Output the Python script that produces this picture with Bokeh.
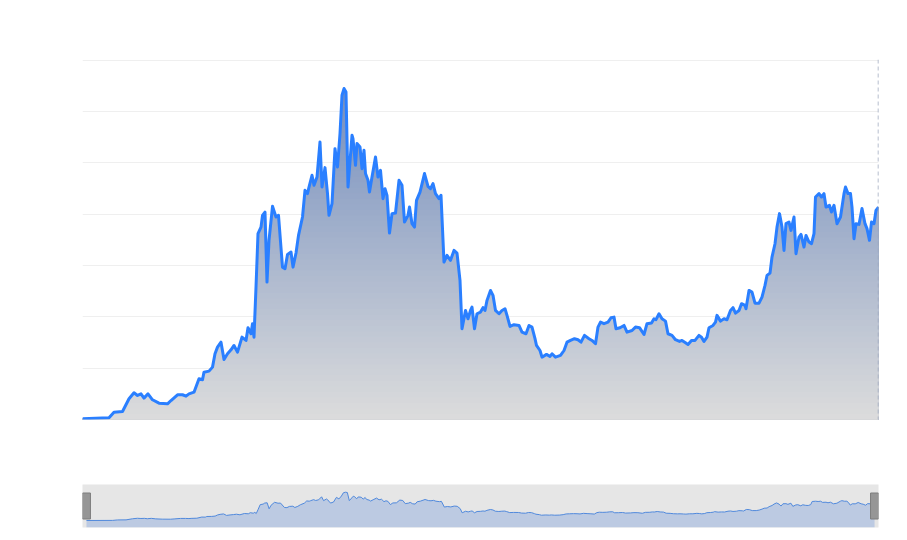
import numpy as np
from bokeh.plotting import figure
from bokeh.models import Range1d, Span, FixedTicker
from bokeh.layouts import column
from bokeh.embed import file_html
from bokeh.resources import INLINE

# ---- data (day index, price) ----
days = [0, 53, 63, 80, 93, 103, 110, 117, 123, 131, 140, 153, 170, 177, 190, 200, 207, 213, 223, 233,
        240, 243, 253, 260, 265, 270, 277, 283, 290, 297, 303, 310, 319, 327, 331, 337, 340, 343, 347, 351,
        357, 360, 365, 369, 373, 380, 387, 392, 400, 405, 410, 417, 421, 427, 432, 440, 445, 450, 453, 459,
        463, 469, 475, 479, 485, 490, 493, 499, 505, 510, 515, 519, 523, 527, 531, 539, 541, 546, 549, 555,
        559, 563, 566, 571, 574, 579, 586, 591, 596, 601, 605, 609, 614, 619, 626, 633, 639, 644, 651, 654,
        659, 664, 668, 675, 684, 691, 696, 701, 706, 713, 717, 723, 729, 736, 743, 749, 755, 759, 766, 771,
        776, 779, 784, 789, 796, 801, 805, 809, 816, 821, 826, 833, 839, 845, 849, 855, 863, 873, 879, 887,
        893, 899, 905, 908, 915, 919, 928, 935, 939, 946, 956, 963, 969, 976, 984, 991, 997, 1004, 1013, 1019,
        1026, 1031, 1036, 1043, 1051, 1057, 1063, 1067, 1075, 1083, 1089, 1099, 1106, 1114, 1123, 1129, 1138, 1143, 1147, 1153,
        1159, 1166, 1171, 1179, 1186, 1194, 1199, 1206, 1211, 1218, 1225, 1233, 1238, 1243, 1249, 1253, 1261, 1266, 1269, 1276,
        1283, 1289, 1296, 1301, 1306, 1313, 1318, 1325, 1327, 1333, 1339, 1345, 1353, 1359, 1365, 1369, 1375, 1379, 1385, 1389,
        1394, 1399, 1403, 1407, 1413, 1417, 1423, 1427, 1433, 1437, 1443, 1447, 1453, 1458, 1463, 1466, 1473, 1478, 1483, 1487,
        1494, 1498, 1503, 1509, 1516, 1523, 1526, 1531, 1536, 1539, 1543, 1547, 1553, 1559, 1565, 1569, 1574, 1578, 1583, 1587,
        1592]
price = [7, 17, 71, 78, 202, 260, 234, 250, 208, 250, 192, 159, 153, 185, 241, 241, 227, 250, 266, 397,
         387, 461, 471, 510, 640, 705, 753, 585, 640, 679, 721, 656, 802, 770, 894, 835, 933, 802, 1289, 1810,
         1874, 1988, 2020, 1338, 1745, 2076, 1972, 1988, 1484, 1469, 1608, 1631, 1484, 1621, 1793, 1972, 2232, 2200, 2264, 2378,
         2281, 2361, 2703, 2264, 2453, 2200, 1988, 2102, 2638, 2459, 2785, 3158, 3223, 3190, 2264, 2768, 2736, 2475, 2687, 2654,
         2443, 2622, 2395, 2329, 2215, 2361, 2556, 2361, 2427, 2151, 2248, 2183, 1816, 2005, 2011, 2329, 2281, 1923, 1988, 2069,
         1907, 1874, 2134, 2215, 2395, 2271, 2248, 2297, 2200, 2151, 2183, 1533, 1598, 1550, 1647, 1621, 1355, 884, 1062, 981,
         1062, 1094, 884, 1030, 1046, 1089, 1062, 1160, 1257, 1209, 1062, 1030, 1062, 1079, 1014, 906, 923, 916, 851, 835,
         916, 900, 787, 721, 672, 607, 634, 614, 640, 607, 624, 672, 753, 770, 787, 777, 753, 819, 787, 770,
         738, 900, 948, 933, 948, 991, 997, 884, 894, 916, 851, 867, 900, 894, 828, 933, 939, 981, 972, 1030,
         981, 958, 835, 819, 777, 760, 770, 748, 731, 770, 770, 819, 802, 760, 802, 894, 916, 948, 1014, 958,
         981, 972, 1062, 1089, 1036, 1062, 1128, 1111, 1079, 1257, 1241, 1133, 1133, 1192, 1306, 1403, 1426, 1582, 1712, 1874,
         2005, 1874, 1647, 1907, 1923, 1842, 1972, 1615, 1777, 1803, 1679, 1793, 1728, 1712, 1810, 2167, 2200, 2167, 2200, 2069,
         2086, 2020, 2086, 1907, 1972, 2200, 2264, 2200, 2200, 2069, 1761, 1907, 1900, 2054, 1907, 1859, 1745, 1923, 1907, 2037,
         2069]
y_ticks = [0, 500, 1000, 1500, 2000, 2500, 3000, 3500]

x = np.array(days, dtype=float)
y = np.array(price, dtype=float)
x0, x1 = x.min(), x.max()

# ---- main chart ----
p = figure(width=899, height=460, output_backend="svg", toolbar_location=None,
           x_range=Range1d(x0, x1), y_range=Range1d(y_ticks[0], y_ticks[-1] + 6),
           min_border_left=82, min_border_right=21, min_border_top=59, min_border_bottom=41)
p.title.visible = False
p.xaxis.visible = False
p.yaxis.visible = False
p.yaxis.ticker = FixedTicker(ticks=y_ticks)
p.xgrid.visible = False
p.ygrid.grid_line_color = "#efefef"
p.ygrid.grid_line_width = 1
p.outline_line_color = None
p.background_fill_color = "white"
p.border_fill_color = "white"

# vertical gradient fill (blue-grey at top to light grey at baseline)
top_col = np.array([116, 142, 190])
bot_col = np.array([220, 220, 220])
ymax = y.max()
n_bands = 60
for k in range(n_bands):
    U = ymax * (1 - k / n_bands)
    t = (U - ymax / n_bands / 2) / ymax
    c = bot_col + (top_col - bot_col) * t
    col = "#%02x%02x%02x" % tuple(int(round(v)) for v in c)
    p.varea(x=x, y1=0, y2=np.minimum(y, U), fill_color=col, fill_alpha=1.0)

p.line(x, y, line_color="#2a7fff", line_width=3, line_join="round")
p.add_layout(Span(location=x1, dimension="height", line_color="#9ea8bd",
                  line_dash="4 3", line_width=1.5))

# ---- navigator ----
nav_lo, nav_hi = -790, 4100
nav = figure(width=899, height=75, output_backend="svg", toolbar_location=None,
             x_range=Range1d(x0 - 8, x1 + 8), y_range=Range1d(nav_lo, nav_hi),
             min_border_left=82, min_border_right=10, min_border_top=24, min_border_bottom=8)
nav.title.visible = False
nav.xaxis.visible = False
nav.yaxis.visible = False
nav.xgrid.visible = False
nav.ygrid.visible = False
nav.outline_line_color = None
nav.background_fill_color = "#e6e6e6"
nav.border_fill_color = "white"
nav.varea(x=x, y1=nav_lo, y2=y, fill_color="#bccae2")
nav.line(x, y, line_color="#5089dc", line_width=1)
mid = (nav_lo + nav_hi) / 2
nav.rect(x=[x0, x1], y=[mid, mid], width=8, height=26, width_units="screen",
         height_units="screen", fill_color="#969696", line_color="#7d7d7d")

layout = column(p, nav)
open("out.html", "w").write(file_html(layout, INLINE))
